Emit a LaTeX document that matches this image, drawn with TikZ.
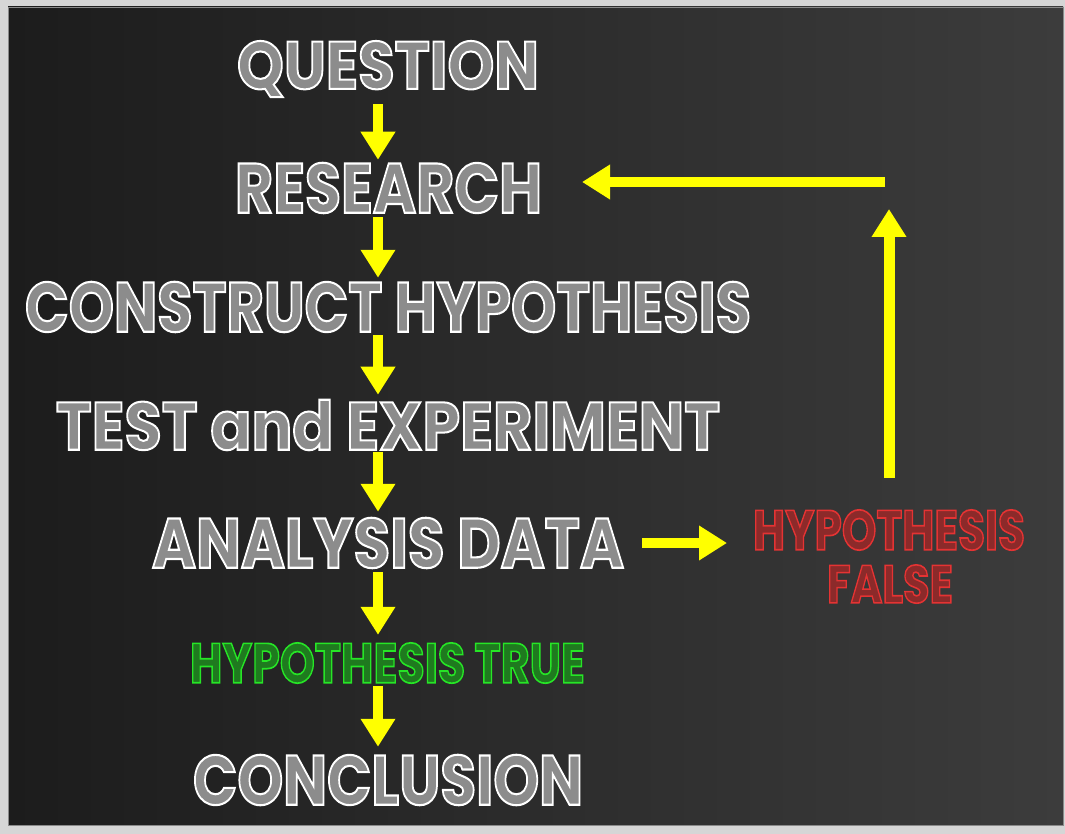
\documentclass[tikz,border=0pt]{standalone}
\usepackage{fontspec}
\setmainfont{Poppins}
\usepackage{graphicx}
\usetikzlibrary{arrows.meta}
\definecolor{frame}{HTML}{D6D6D6}
\definecolor{boardL}{HTML}{1C1C1C}
\definecolor{boardR}{HTML}{3C3C3C}
\definecolor{boardedge}{HTML}{8A8A8A}
\definecolor{wfill}{HTML}{8C8C8C}
\definecolor{gfill}{HTML}{1F7A1F}
\definecolor{rfill}{HTML}{8C2A2A}
\definecolor{arrowyellow}{HTML}{FFFF00}
% width, height, fill colour, stroke rgb, text
\newcommand\chalktext[5]{\resizebox{#1}{#2}{\bfseries\fontsize{40}{48}\selectfont\color{#3}\special{pdf:literal direct 2 Tr 1.2 w #4 RG}#5\special{pdf:literal direct 0 Tr}}}
\tikzset{
  txt/.style={inner sep=0pt, outer sep=0pt, anchor=center},
  flowarrow/.style={draw=arrowyellow, line width=10pt, -{Triangle[length=28pt,width=33pt]}},
}
\begin{document}
\begin{tikzpicture}[x=1pt,y=-1pt]
\useasboundingbox (0,0) rectangle (1065,834);
\fill[frame] (0,0) rectangle (1065,834);
\shade[left color=boardL, right color=boardR] (8,7) rectangle (1063,825);
\draw[boardedge, line width=0.8pt] (8,7) rectangle (1063,825);

\node[txt] (q)   at (388,69)  {\chalktext{302pt}{48pt}{wfill}{1 1 1}{QUESTION}};
\node[txt] (r)   at (388.5,188) {\chalktext{307pt}{50pt}{wfill}{1 1 1}{RESEARCH}};
\node[txt] (c)   at (388,307) {\chalktext{726pt}{50pt}{wfill}{1 1 1}{CONSTRUCT HYPOTHESIS}};
\node[txt] (t)   at (388,425) {\chalktext{664pt}{50pt}{wfill}{1 1 1}{TEST and EXPERIMENT}};
\node[txt] (a)   at (388,543) {\chalktext{472pt}{50pt}{wfill}{1 1 1}{ANALYSIS DATA}};
\node[txt] (ht)  at (387.5,663) {\chalktext{395pt}{40pt}{gfill}{0.15 0.9 0.15}{HYPOTHESIS TRUE}};
\node[txt] (con) at (388,780) {\chalktext{390pt}{50pt}{wfill}{1 1 1}{CONCLUSION}};
\node[txt] (hf)  at (889,530) {\chalktext{272pt}{40pt}{rfill}{0.9 0.2 0.2}{HYPOTHESIS}};
\node[txt] (hf2) at (890,584) {\chalktext{126pt}{38pt}{rfill}{0.9 0.2 0.2}{FALSE}};

\coordinate (upTip) at (889,209);
\coordinate (leftStart) at (885,182);
\coordinate (rEnd) at ([xshift=40pt]r.east);

\draw[flowarrow] ([xshift=-10pt,yshift=-7pt]q.south) -- ([xshift=-10.5pt,yshift=3pt]r.north);
\draw[flowarrow] ([xshift=-10.5pt,yshift=-4pt]r.south) -- ([xshift=-10pt,yshift=4pt]c.north);
\draw[flowarrow] ([xshift=-10pt,yshift=-3pt]c.south) -- ([xshift=-10pt,yshift=5pt]t.north);
\draw[flowarrow] ([xshift=-10pt,yshift=-2pt]t.south) -- ([xshift=-10pt,yshift=6pt]a.north);
\draw[flowarrow] ([xshift=-10pt,yshift=-4pt]a.south) -- ([xshift=-9.5pt,yshift=8pt]ht.north);
\draw[flowarrow] ([xshift=-9.5pt,yshift=-3pt]ht.south) -- ([xshift=-10pt,yshift=8pt]con.north);
\draw[flowarrow] ([xshift=18pt]a.east) -- ([xshift=-26pt]a.east -| hf.west);
\draw[flowarrow, line width=11pt] ([yshift=32pt]hf.north) -- (upTip);
\draw[flowarrow] (leftStart) -- (rEnd |- leftStart);
\end{tikzpicture}
\end{document}
